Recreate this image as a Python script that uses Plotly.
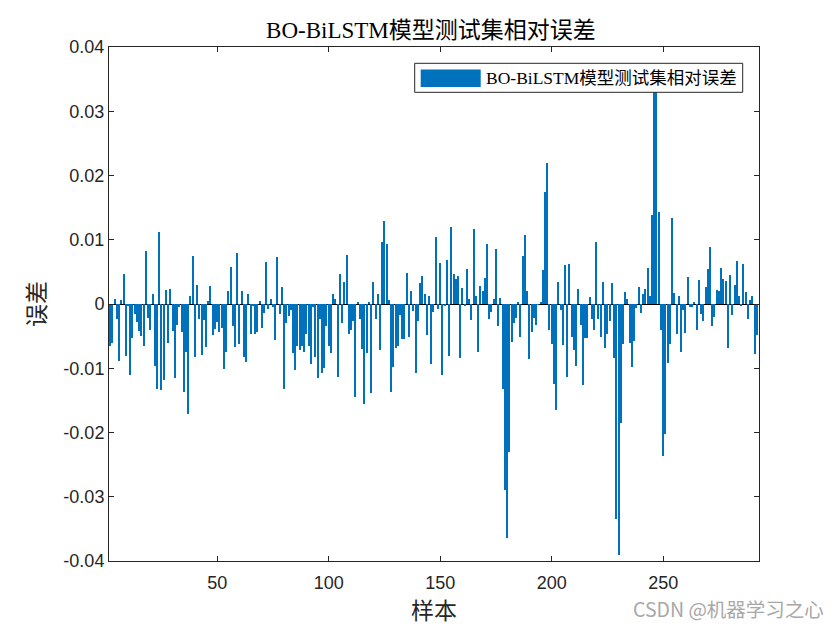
import plotly.graph_objects as go

# ---------------- data ----------------
title_text = "BO-BiLSTM模型测试集相对误差"
x_label = "样本"
y_label = "误差"
y_tick_vals = [-0.04, -0.03, -0.02, -0.01, 0, 0.01, 0.02, 0.03, 0.04]
y_tick_text = ["-0.04", "-0.03", "-0.02", "-0.01", "0", "0.01", "0.02", "0.03", "0.04"]
x_tick_vals = [50, 100, 150, 200, 250]

rel_error = [
    -0.0065,
    -0.0066, -0.0060, 0.0008, -0.0024, -0.0088, 0.0007, 0.0047, -0.0081, -0.0002, -0.0110,
    -0.0053, -0.0016, -0.0028, -0.0042, -0.0050, -0.0065, 0.0082, -0.0022, -0.0041, 0.0016,
    -0.0097, -0.0132, 0.0112, -0.0134, -0.0119, 0.0022, -0.0061, 0.0023, -0.0042, -0.0115,
    -0.0033, -0.0004, -0.0044, -0.0137, -0.0074, -0.0171, 0.0013, 0.0075, -0.0082, 0.0030,
    -0.0023, -0.0080, -0.0025, -0.0067, 0.0004, 0.0028, -0.0048, -0.0039, -0.0028, -0.0044,
    -0.0037, -0.0101, -0.0074, 0.0021, 0.0058, -0.0035, -0.0067, 0.0080, -0.0062, 0.0021,
    -0.0083, -0.0090, 0.0016, -0.0047, -0.0003, -0.0047, -0.0044, 0.0004, -0.0038, -0.0014,
    0.0065, -0.0007, 0.0008, -0.0005, -0.0056, 0.0073, -0.0016, 0.0027, -0.0133, -0.0030,
    -0.0019, -0.0010, -0.0077, -0.0102, -0.0066, -0.0071, -0.0066, -0.0074, -0.0046, -0.0066,
    -0.0094, -0.0005, -0.0082, -0.0115, -0.0023, -0.0107, -0.0099, -0.0035, -0.0065, -0.0077,
    0.0015, 0.0008, -0.0114, 0.0046, -0.0030, 0.0034, 0.0077, -0.0047, -0.0040, -0.0026,
    -0.0144, 0.0002, -0.0024, -0.0070, -0.0156, -0.0077, 0.0002, -0.0138, 0.0034, -0.0024,
    0.0015, -0.0071, 0.0096, 0.0129, 0.0094, 0.0007, -0.0137, -0.0098, -0.0069, -0.0065,
    -0.0017, -0.0054, -0.0054, 0.0049, -0.0051, 0.0021, -0.0011, -0.0108, -0.0027, 0.0033,
    0.0044, 0.0016, -0.0048, 0.0012, -0.0093, -0.0012, 0.0104, -0.0007, 0.0064, -0.0110,
    -0.0003, 0.0069, -0.0081, 0.0120, 0.0047, 0.0039, 0.0043, -0.0084, 0.0025, -0.0003,
    0.0055, 0.0008, -0.0025, 0.0116, 0.0013, -0.0074, 0.0028, 0.0021, 0.0041, 0.0094,
    -0.0024, -0.0012, 0.0008, 0.0085, -0.0035, 0.0009, -0.0133, -0.0289, -0.0364, -0.0231,
    -0.0059, -0.0030, -0.0022, 0.0002, -0.0052, 0.0074, 0.0108, 0.0021, -0.0085, -0.0043,
    -0.0022, -0.0033, -0.0001, 0.0003, 0.0053, 0.0174, 0.0220, -0.0040, -0.0063, -0.0124,
    -0.0165, 0.0034, -0.0009, -0.0064, 0.0060, -0.0114, 0.0063, -0.0051, -0.0072, -0.0096,
    0.0023, -0.0033, -0.0126, -0.0053, -0.0053, 0.0011, -0.0023, -0.0041, 0.0097, -0.0024,
    -0.0051, 0.0035, -0.0069, -0.0046, -0.0027, 0.0032, -0.0084, -0.0335, -0.0390, -0.0185,
    -0.0063, 0.0018, 0.0008, -0.0061, -0.0098, -0.0058, -0.0006, 0.0026, -0.0014, 0.0015,
    0.0024, 0.0056, 0.0012, 0.0139, 0.0355, 0.0345, 0.0143, -0.0041, -0.0236, -0.0202,
    -0.0092, -0.0062, 0.0134, 0.0017, -0.0046, 0.0012, -0.0075, -0.0010, -0.0045, 0.0042,
    -0.0004, -0.0004, 0.0002, -0.0040, 0.0038, -0.0016, -0.0027, 0.0026, 0.0055, 0.0089,
    -0.0035, -0.0020, 0.0022, 0.0021, 0.0056, 0.0039, 0.0036, -0.0068, 0.0045, -0.0017,
    0.0030, 0.0067, 0.0012, -0.0003, 0.0063, 0.0018, -0.0024, 0.0007, 0.0013, -0.0078,
    -0.0049,
]
sample_idx = list(range(1, len(rel_error) + 1))

# ---------------- layout constants ----------------
W, H = 840, 630
PL, PR, PT, PB = 109.3, 759.3, 47, 561   # plot box in pixels


def px_x(p):
    return (p - PL) / (PR - PL)


def px_y(p):
    return (PB - p) / (PB - PT)


BLUE = "#0072BD"
AXC = "#262626"
tick_font = dict(family="Liberation Sans, Arial, sans-serif", size=18, color=AXC)
serif_cjk = "Liberation Serif, Times New Roman, Noto Sans CJK SC, serif"

fig = go.Figure()
fig.add_trace(go.Bar(
    x=sample_idx, y=rel_error, width=0.62,
    marker=dict(color=BLUE, line=dict(width=0)),
    name=title_text, showlegend=False,
))

fig.update_layout(
    width=W, height=H, autosize=False,
    margin=dict(l=PL, r=W - PR, t=PT, b=H - PB, pad=0, autoexpand=False),
    paper_bgcolor="white", plot_bgcolor="white",
    bargap=0,
    title=dict(text=title_text, x=(PL + PR) / 2 / W - 0.004, xanchor="center", xref="container",
               y=1 - 30 / H, yanchor="middle", yref="container",
               font=dict(family=serif_cjk, size=23, color="black")),
    xaxis=dict(range=[1.4, 292.9], tickvals=x_tick_vals, ticks="inside", ticklen=5, tickwidth=1,
               tickcolor=AXC, showline=True, linecolor=AXC, linewidth=1, mirror="ticks",
               showgrid=False, zeroline=False, tickfont=tick_font, ticklabelstandoff=5,
               automargin=False,
               title=dict(text=x_label, font=dict(family=serif_cjk, size=23, color=AXC), standoff=11)),
    yaxis=dict(range=[-0.04, 0.04], tickvals=y_tick_vals, ticktext=y_tick_text, ticks="inside",
               ticklen=5, tickwidth=1, tickcolor=AXC, showline=True, linecolor=AXC, linewidth=1,
               mirror="ticks", showgrid=False, zeroline=True, zerolinecolor="black", zerolinewidth=1,
               tickfont=tick_font, automargin=False,
               title=dict(text=y_label, font=dict(family=serif_cjk, size=23, color=AXC), standoff=11)),
)

# manual MATLAB-style legend
fig.add_shape(type="rect", xref="paper", yref="paper",
              x0=px_x(415), x1=px_x(743), y0=px_y(92.3), y1=px_y(63.3),
              line=dict(color=AXC, width=1), fillcolor="white", layer="above")
fig.add_shape(type="rect", xref="paper", yref="paper",
              x0=px_x(421), x1=px_x(481), y0=px_y(87), y1=px_y(69.5),
              line=dict(width=0), fillcolor=BLUE, layer="above")
fig.add_annotation(text=title_text, xref="paper", yref="paper", x=px_x(484), y=px_y(78),
                   xanchor="left", yanchor="middle", showarrow=False,
                   font=dict(family=serif_cjk, size=17.5, color="black"))

# watermark
fig.add_annotation(text="CSDN @机器学习之心", xref="paper", yref="paper",
                   x=px_x(826), y=px_y(608), xanchor="right", yanchor="middle", showarrow=False,
                   font=dict(family="Noto Sans CJK SC, sans-serif", size=19.5, color="#a8a8a8"))

fig.write_html("out.html")
